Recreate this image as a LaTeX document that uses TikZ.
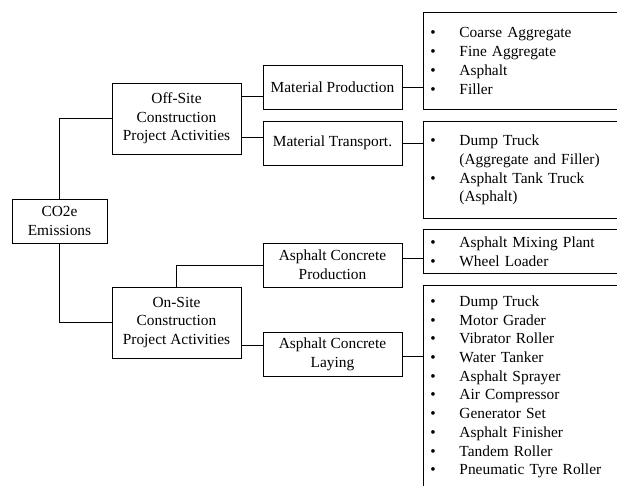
\documentclass[tikz,border=0pt]{standalone}
\usepackage{fontspec}
\setmainfont{Liberation Serif}
\newcommand{\itm}{\makebox[29pt][l]{\textbullet}}
\newcommand{\cnt}{\hspace*{29pt}}
\tikzset{
  box/.style={draw, line width=0.9pt, inner sep=0pt, align=center,
    font=\fontsize{15.4}{18.7}\selectfont},
  listbox/.style={draw, line width=0.9pt, anchor=north west, inner xsep=7pt,
    inner ysep=0pt, minimum width=230pt, text width=216pt, align=left,
    font=\fontsize{15.4}{18.7}\selectfont},
  link/.style={line width=0.9pt}
}
\begin{document}
\begin{tikzpicture}[x=1pt, y=-1pt]
	\useasboundingbox (0,0) rectangle (617,485);
	\clip (0,0) rectangle (617,485);
	\node[box, minimum width=95pt, minimum height=44pt] (co2) at (59.5,221) {CO2e\\Emissions};
	\node[box, minimum width=129pt, minimum height=71pt] (off) at (176.5,118.5) {Off-Site\\Construction\\Project Activities};
	\node[box, minimum width=129pt, minimum height=71pt] (on) at (176.5,322.5) {On-Site\\Construction\\Project Activities};
	\node[box, minimum width=139pt, minimum height=44pt] (prod) at (332.5,87) {Material Production};
	\node[box, minimum width=139pt, minimum height=44pt] (transp) at (332.5,143) {Material Transport.};
	\node[box, minimum width=139pt, minimum height=44pt] (acp) at (332.5,265) {Asphalt Concrete\\Production};
	\node[box, minimum width=139pt, minimum height=44pt] (acl) at (332.5,354) {Asphalt Concrete\\Laying};
	\node[listbox, minimum height=97pt] (matlist) at (423,12)
		{\itm Coarse Aggregate\\\itm Fine Aggregate\\\itm Asphalt\\\itm Filler};
	\node[listbox, minimum height=97pt] (trlist) at (423,121)
		{\itm Dump Truck\\\cnt(Aggregate and Filler)\\\itm Asphalt Tank Truck\\\cnt(Asphalt)};
	\node[listbox, minimum height=44pt] (plantlist) at (423,229)
		{\itm Asphalt Mixing Plant\\\itm Wheel Loader};
	\node[listbox, minimum height=203pt] (laylist) at (423,285)
		{\itm Dump Truck\\\itm Motor Grader\\\itm Vibrator Roller\\\itm Water Tanker\\\itm Asphalt Sprayer\\
		 \itm Air Compressor\\\itm Generator Set\\\itm Asphalt Finisher\\\itm Tandem Roller\\\itm Pneumatic Tyre Roller};
	\draw[link] (co2.north) |- (off.west);
	\draw[link] (co2.south) |- (on.west);
	\draw[link] ([yshift=-9pt]prod.west) -- ([yshift=-9pt]prod.west -| off.east);
	\draw[link] ([yshift=6pt]transp.west) -- ([yshift=6pt]transp.west -| off.east);
	\draw[link] (on.north) |- (acp.west);
	\draw[link] ([yshift=9pt]acl.west) -- ([yshift=9pt]acl.west -| on.east);
	\draw[link] (prod.east) -- (prod.east -| matlist.west);
	\draw[link] (transp.east) -- (transp.east -| trlist.west);
	\draw[link] ([yshift=7pt]acp.east) -- ([yshift=7pt]acp.east -| plantlist.west);
	\draw[link] ([yshift=-2pt]acl.east) -- ([yshift=-2pt]acl.east -| laylist.west);
\end{tikzpicture}
\end{document}
